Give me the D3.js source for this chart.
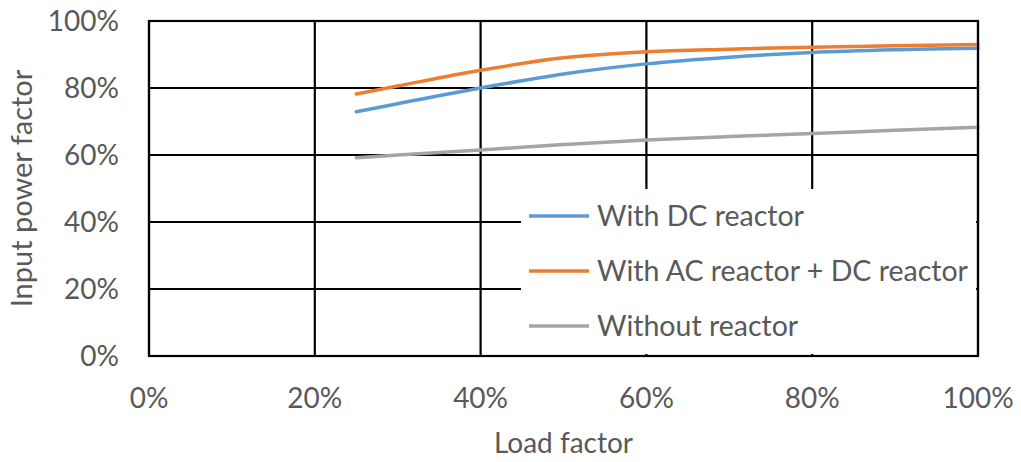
<!DOCTYPE html>
<html><head><meta charset="utf-8">
<script src="https://cdn.jsdelivr.net/npm/d3@7"></script>
<style>body{margin:0;background:#fff}svg{display:block}text{font-family:Lato,"Open Sans",sans-serif;fill:#595959}</style>
</head><body><svg id="c" width="1021" height="462"></svg>
<script>
const loadFactor = [0.25, 0.30, 0.40, 0.50, 0.60, 0.70, 0.80, 0.90, 1.00];
const withDC     = [0.729, 0.753, 0.800, 0.842, 0.872, 0.892, 0.906, 0.914, 0.919];
const withACDC   = [0.782, 0.806, 0.853, 0.890, 0.908, 0.916, 0.922, 0.926, 0.930];
const without    = [0.592, 0.600, 0.615, 0.631, 0.645, 0.655, 0.664, 0.674, 0.683];
const seriesNames = ["With DC reactor", "With AC reactor + DC reactor", "Without reactor"];
const seriesColors = ["#5B9BD5", "#ED7D31", "#A5A5A5"];
const xTicks = [0, 0.2, 0.4, 0.6, 0.8, 1.0];
const yTicks = [0, 0.2, 0.4, 0.6, 0.8, 1.0];

const svg = d3.select("#c");
const L = 149, R = 978, T = 21, B = 356;
const x = d3.scaleLinear().domain([0, 1]).range([L, R]);
const y = d3.scaleLinear().domain([0, 1]).range([B, T]);
const fmt = d => Math.round(d * 100) + "%";

// gridlines
const g = svg.append("g");
g.selectAll(".gx").data(xTicks).enter().append("line")
  .attr("x1", d => x(d)).attr("x2", d => x(d)).attr("y1", T).attr("y2", B)
  .attr("stroke", "#000").attr("stroke-width", 2.2);
g.selectAll(".gy").data(yTicks).enter().append("line")
  .attr("x1", L).attr("x2", R).attr("y1", d => y(d)).attr("y2", d => y(d))
  .attr("stroke", "#000").attr("stroke-width", 2.2);

// series
const all = [withDC, withACDC, without];
const line = d3.line().x((d, i) => x(loadFactor[i])).y(d => y(d)).curve(d3.curveCatmullRom.alpha(0.5));
[without, withDC, withACDC].forEach(s => {
  const k = all.indexOf(s);
  svg.append("path").attr("d", line(s)).attr("fill", "none")
    .attr("stroke", seriesColors[k]).attr("stroke-width", 3.5).attr("stroke-linecap", "round");
});

// legend background
svg.append("rect").attr("x", 521).attr("y", 189).attr("width", 455).attr("height", 165).attr("fill", "#fff");
// plot border on top
svg.append("rect").attr("x", L).attr("y", T).attr("width", R - L).attr("height", B - T)
  .attr("fill", "none").attr("stroke", "#000").attr("stroke-width", 2.2);

// legend entries
const rowY = [216, 271, 326];
seriesNames.forEach((n, k) => {
  svg.append("line").attr("x1", 529).attr("x2", 589).attr("y1", rowY[k]).attr("y2", rowY[k])
    .attr("stroke", seriesColors[k]).attr("stroke-width", 3.5);
  svg.append("text").attr("x", 597).attr("y", rowY[k] + 10).attr("font-size", 28.5).text(n);
});

// axes labels
svg.selectAll(".yt").data(yTicks).enter().append("text")
  .attr("x", 119).attr("y", d => y(d) + 10).attr("text-anchor", "end").attr("font-size", 28).text(fmt);
svg.selectAll(".xt").data(xTicks).enter().append("text")
  .attr("x", d => x(d)).attr("y", 408).attr("text-anchor", "middle").attr("font-size", 28).text(fmt);

svg.append("text").attr("x", (L + R) / 2).attr("y", 453).attr("text-anchor", "middle")
  .attr("font-size", 28).text("Load factor");
svg.append("text").attr("transform", `translate(32,${(T + B) / 2}) rotate(-90)`)
  .attr("text-anchor", "middle").attr("font-size", 29).text("Input power factor");
</script></body></html>
